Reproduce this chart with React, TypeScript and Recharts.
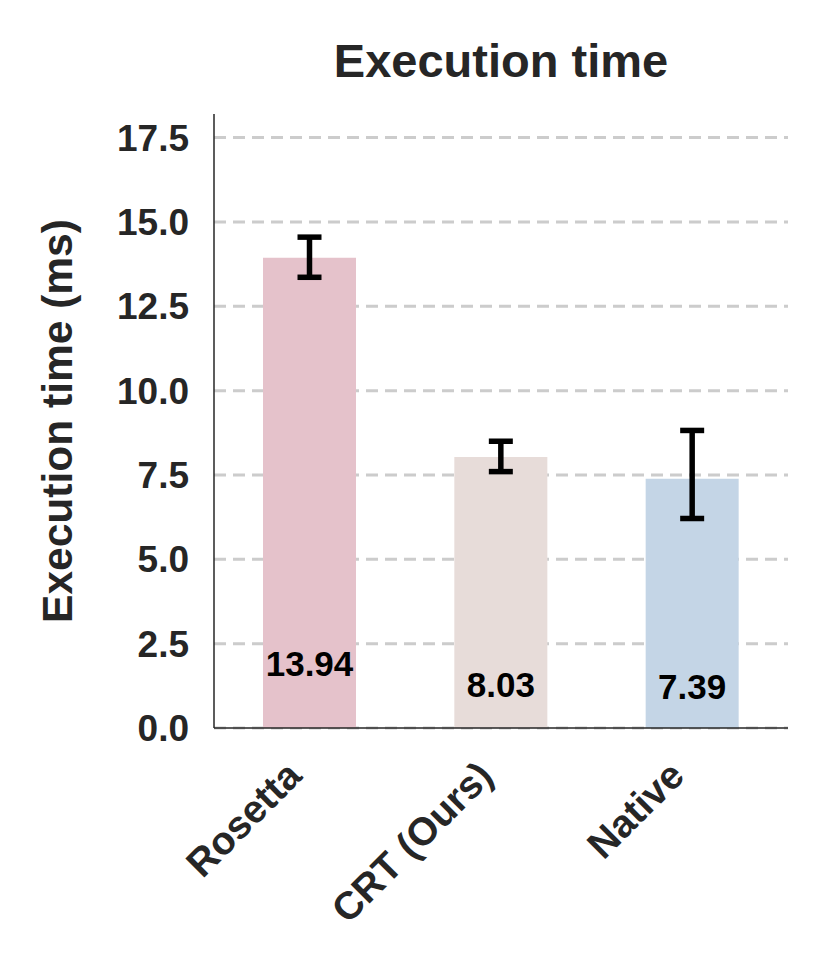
import { Bar, BarChart, CartesianGrid, Cell, ErrorBar, LabelList, XAxis, YAxis } from "recharts"

const categories = ["Rosetta", "CRT (Ours)", "Native"]
const meanMs = [13.94, 8.03, 7.39]
// asymmetric CI: [below, above]
const ciMs: [number, number][] = [
  [0.58, 0.61],
  [0.43, 0.47],
  [1.18, 1.43],
]
const barColors = ["#E5C2CB", "#E7DCD9", "#C4D5E6"]
const yTicks = [0, 2.5, 5, 7.5, 10, 12.5, 15, 17.5]
const yMax = 18.2

const FONT = '"Liberation Sans", Arial, sans-serif'
const INK = "#262626"

const data = categories.map((name, i) => ({ name, value: meanMs[i], err: ciMs[i] }))

// only grid lines at the real ticks (no extra line at the domain top)
function gridRows({ yAxis, offset }: any) {
  const s = yAxis?.scale
  if (typeof s === "function") return yTicks.map((t) => s(t))
  if (s && typeof s.map === "function") return yTicks.map((t) => s.map(t))
  return yTicks.map((t) => offset.top + offset.height * (1 - t / yMax))
}

function XTick(props: any) {
  const { x, y, payload } = props
  const ax = x - 6
  const ay = y + 50
  return (
    <text
      x={ax}
      y={ay}
      transform={`rotate(-45, ${ax}, ${ay})`}
      textAnchor="end"
      fontFamily={FONT}
      fontWeight="bold"
      fontSize={39}
      fill={INK}
    >
      {payload.value}
    </text>
  )
}

function ValueLabel(props: any) {
  const { x, y, width, height, value } = props
  const cy = y + height - (0.105 * height + 15.4)
  return (
    <text
      x={x + width / 2}
      y={cy}
      textAnchor="middle"
      dominantBaseline="central"
      fontFamily={FONT}
      fontWeight="bold"
      fontSize={35}
      fill="#000"
    >
      {Number(value).toFixed(2)}
    </text>
  )
}

function YLabel(props: any) {
  const { viewBox } = props
  const cx = 72
  const cy = viewBox.y + viewBox.height / 2
  return (
    <text
      x={cx}
      y={cy}
      transform={`rotate(-90, ${cx}, ${cy})`}
      textAnchor="middle"
      fontFamily={FONT}
      fontWeight="bold"
      fontSize={42.5}
      fill={INK}
    >
      Execution time (ms)
    </text>
  )
}

export default function App() {
  return (
    <div style={{ position: "absolute", left: 0, top: 0, width: 830, height: 970, background: "#fff" }}>
      <div
        style={{
          position: "absolute",
          left: 0,
          width: 1002,
          top: 80 - 43,
          textAlign: "center",
          fontFamily: FONT,
          fontWeight: "bold",
          fontSize: 47,
          lineHeight: "47px",
          color: INK,
        }}
      >
        Execution time
      </div>
      <BarChart
        width={830}
        height={970}
        data={data}
        margin={{ top: 114, right: 42, left: 0, bottom: 0 }}
        barCategoryGap={0}
      >
        <CartesianGrid
          vertical={false}
          stroke="#cccccc"
          strokeWidth={3}
          strokeDasharray="12 7"
          horizontalCoordinatesGenerator={gridRows}
        />
        <XAxis
          dataKey="name"
          height={242}
          tickLine={false}
          tickSize={0}
          tickMargin={0}
          interval={0}
          axisLine={{ stroke: INK, strokeWidth: 1.5 }}
          tick={<XTick />}
        />
        <YAxis
          width={214}
          domain={[0, yMax]}
          ticks={yTicks}
          tickFormatter={(v: number) => v.toFixed(1)}
          tickLine={false}
          tickSize={0}
          tickMargin={25}
          axisLine={{ stroke: INK, strokeWidth: 1.5 }}
          tick={{ fontFamily: FONT, fontWeight: "bold", fontSize: 37, fill: INK }}
          label={<YLabel />}
        />
        <Bar dataKey="value" barSize={93} isAnimationActive={false}>
          {data.map((_, i) => (
            <Cell key={i} fill={barColors[i]} />
          ))}
          <LabelList dataKey="value" content={<ValueLabel />} />
          <ErrorBar
            dataKey="err"
            width={12}
            stroke="#000"
            strokeWidth={5.5}
            style={{ strokeWidth: 5.5 }}
            isAnimationActive={false}
          />
        </Bar>
      </BarChart>
    </div>
  )
}
